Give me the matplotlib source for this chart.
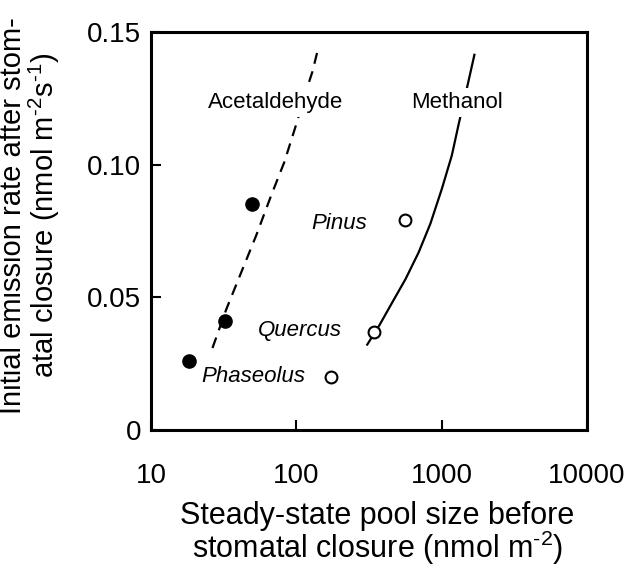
import numpy as np
import matplotlib.pyplot as plt

plt.rcParams['font.family'] = ['Liberation Sans', 'DejaVu Sans']
plt.rcParams['mathtext.fontset'] = 'custom'
plt.rcParams['mathtext.rm'] = 'Liberation Sans'

# measured points
acet_pool = [18.3, 32.1, 49.8]
acet_rate = [0.026, 0.041, 0.085]
meth_pool = [173, 342, 558]
meth_rate = [0.020, 0.037, 0.079]

# fitted curves
acet_curve_x = [26.5, 33.0, 41.8, 52.9, 67.2, 82.8, 99.6, 116.5, 129.3, 141.6]
acet_curve_y = [0.0309, 0.0455, 0.0594, 0.0732, 0.0884, 0.101, 0.1149, 0.1275, 0.1351, 0.1439]
meth_curve_x = [308, 370, 457, 564, 695, 837, 1005, 1177, 1307, 1530, 1683]
meth_curve_y = [0.0322, 0.0391, 0.0480, 0.0568, 0.0669, 0.0777, 0.0909, 0.1035, 0.1149, 0.1313, 0.1414]

species = ['Phaseolus', 'Quercus', 'Pinus']
species_pos = [(50.7, 0.020), (106, 0.0376), (199, 0.078)]

fig = plt.figure(figsize=(6.29, 5.67), dpi=100)
ax = fig.add_axes([0.240, 0.2416, 0.693, 0.702])

ax.plot(acet_curve_x, acet_curve_y, color='black', lw=1.6, ls=(0, (5, 3.5)), zorder=2)
ax.plot(meth_curve_x, meth_curve_y, color='black', lw=1.6, zorder=2)
ax.plot(acet_pool, acet_rate, 'o', color='black', ms=9.5, zorder=4)
ax.plot(meth_pool, meth_rate, 'o', mfc='white', mec='black', mew=1.5, ms=8.5, zorder=4)

box = dict(facecolor='white', edgecolor='none', pad=3)
ax.text(71.6, 0.1235, 'Acetaldehyde', fontsize=16, ha='center', va='center', bbox=box, zorder=3)
ax.text(1283, 0.1235, 'Methanol', fontsize=16, ha='center', va='center', bbox=box, zorder=3)
for name, (px, py) in zip(species, species_pos):
    ax.text(px, py, name, fontsize=16, style='italic', ha='center', va='center', zorder=3)

ax.set_xscale('log')
ax.set_xlim(10, 10000)
ax.set_ylim(0, 0.15)
ax.set_xticks([10, 100, 1000, 10000])
ax.set_xticklabels(['10', '100', '1000', '10000'])
ax.xaxis.set_minor_locator(plt.NullLocator())
ax.set_yticks([0, 0.05, 0.10, 0.15])
ax.set_yticklabels(['0', '0.05', '0.10', '0.15'])
ax.tick_params(direction='in', length=7, width=1.5, labelsize=20)
ax.tick_params(axis='y', pad=7)
ax.tick_params(axis='x', pad=24)
for s in ax.spines.values():
    s.set_linewidth(2.2)

fig.text(0.60, 0.058, 'Steady-state pool size before\nstomatal closure (nmol m$^{\\text{-}2}$)',
         fontsize=22, ha='center', va='center', linespacing=0.92)
fig.text(0.049, 0.62, 'Initial emission rate after stom-\natal closure (nmol m$^{\\text{-}2}$s$^{\\text{-}1}$)',
         fontsize=21, ha='center', va='center', rotation=90, linespacing=1.0)

fig.savefig('out.png', dpi=100)
